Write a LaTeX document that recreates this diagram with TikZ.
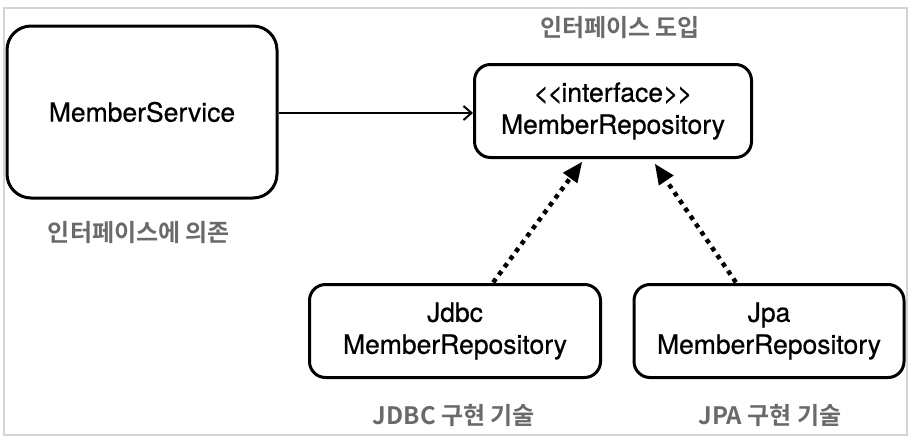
\documentclass[tikz,border=0pt]{standalone}
\usepackage{fontspec}
\setmainfont{TeX Gyre Heros}[FakeBold=0.6]
\newfontfamily\kr{Noto Sans CJK KR}[BoldFont={Noto Sans CJK KR Bold}]
\usetikzlibrary{arrows.meta}
\definecolor{labelgray}{HTML}{6A6A6A}
\definecolor{framegray}{HTML}{D4D4D4}
\newcommand{\lt}{<\kern-1.5pt}
\newcommand{\gt}{>\kern-1.5pt}
\begin{document}
\begin{tikzpicture}[x=1pt,y=-1pt,
  box/.style={draw=black,line width=3pt,rounded corners=16pt,align=center,
    font=\fontsize{26.5}{32}\selectfont,inner sep=0pt},
  lbl/.style={text=labelgray,font=\kr\bfseries\fontsize{24}{26}\selectfont,inner sep=0pt},
  dep/.style={line width=2pt,-{Straight Barb[length=8pt,width=14pt,line width=2pt]}},
  impl/.style={line width=4.5pt,dash pattern=on 4.5pt off 5pt,
    -{Triangle[length=20pt,width=18pt,line width=0pt]}}
]
\useasboundingbox (0,0) rectangle (912,439);
\draw[framegray,line width=1.5pt] (4,8) rectangle (907,435);

\node[box,rounded corners=24pt,minimum width=270pt,minimum height=172pt] (svc) at (142,112) {MemberService};
\node[box,minimum width=277pt,minimum height=93pt] (iface) at (613,111) {\lt\lt interface\gt >\\MemberRepository};
\node[box,minimum width=291pt,minimum height=93pt] (jdbc) at (455,331) {Jdbc\\MemberRepository};
\node[box,minimum width=270pt,minimum height=93pt] (jpa) at (769,331) {Jpa\\MemberRepository};

\node[lbl] (l1) at (139,233) {인터페이스에 의존};
\node[lbl] (l2) at (620,28) {인터페이스 도입};
\node[lbl] (l3) at (454,415) {JDBC 구현 기술};
\node[lbl] (l4) at (770,415) {JPA 구현 기술};

\draw[dep] (svc.east |- 0,113) -- (iface.west |- 0,113);
\coordinate (j1) at (492,284);
\coordinate (j2) at (582,162);
\coordinate (p1) at (737,284);
\coordinate (p2) at (655,164);
\draw[impl,shorten <=2pt] (j1) -- (j2);
\draw[impl,shorten <=2pt] (p1) -- (p2);
\end{tikzpicture}
\end{document}
